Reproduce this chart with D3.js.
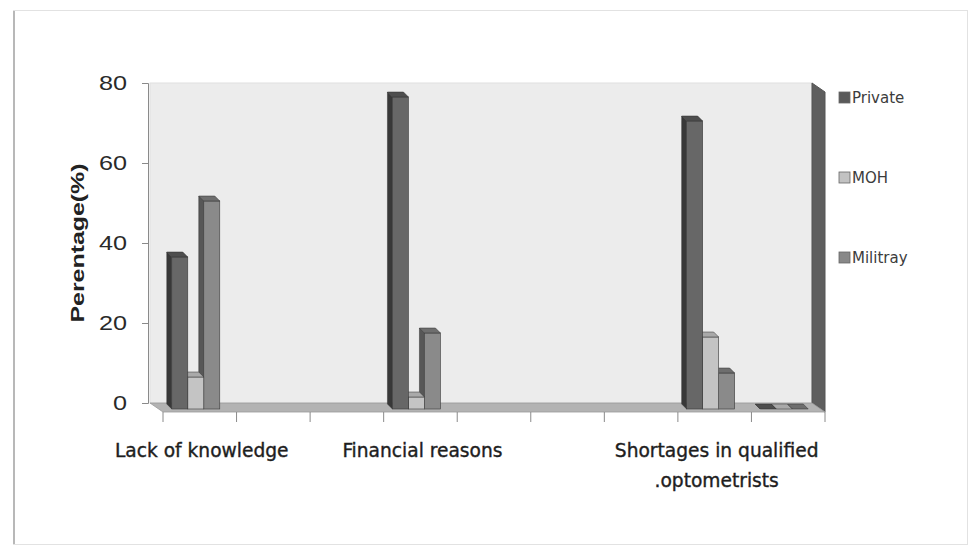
<!DOCTYPE html>
<html>
<head>
<meta charset="utf-8">
<script src="https://cdn.jsdelivr.net/npm/d3@7"></script>
<style>
  body { margin: 0; background: #fff; }
</style>
</head>
<body>
<script>
// categories along the x axis (empty slots have no label)
var categories = ["Lack of knowledge", "", "", "Financial reasons", "", "", "", "Shortages in qualified|.optometrists", ""];
var series = ["Private", "MOH", "Militray"];
var privateVals  = [38, null, null, 78, null, null, null, 72, 0];
var mohVals      = [8,  null, null, 3,  null, null, null, 18, 0];
var militrayVals = [52, null, null, 19, null, null, null, 9,  0];
var yTicks = [0, 20, 40, 60, 80];

var values = {"Private": privateVals, "MOH": mohVals, "Militray": militrayVals};
var faces = {
  "Private":  {front: "#676767", side: "#383838", top: "#4e4e4e", key: "#5a5a5a"},
  "MOH":      {front: "#c4c4c4", side: "#8e8e8e", top: "#a9a9a9", key: "#c2c2c2"},
  "Militray": {front: "#8a8a8a", side: "#575757", top: "#6e6e6e", key: "#888888"}
};

var svg = d3.select("body")
    .append("svg")
    .attr("width", 974)
    .attr("height", 546)
    .style("display", "block");

// outer frame
svg.append("rect")
    .attr("x", 13.5).attr("y", 10.5)
    .attr("width", 954).attr("height", 534)
    .attr("fill", "#fff")
    .attr("stroke", "#e2e2e2");
svg.append("line")
    .attr("x1", 14).attr("y1", 11).attr("x2", 14).attr("y2", 544)
    .attr("stroke", "#b8b8b8").attr("stroke-width", 2);

var y = d3.scaleLinear().domain([0, 80]).range([403, 83]);
var x0 = d3.scaleBand().domain(d3.range(categories.length)).range([150, 812]);
var x1 = d3.scaleBand().domain(series).range([0, 48]);
var depth = {dx: 13, dy: 9};   // wall depth
var bd = 5;                    // bar depth

// back wall
svg.append("rect")
    .attr("x", x0.range()[0]).attr("y", y(80))
    .attr("width", x0.range()[1] - x0.range()[0])
    .attr("height", y(0) - y(80))
    .attr("fill", "#ececec")
    .attr("stroke", "#e0e0e0");

// right side wall
var xr = x0.range()[1];
svg.append("polygon")
    .attr("points", [[xr, y(80)], [xr + depth.dx, y(80) + depth.dy], [xr + depth.dx, y(0) + depth.dy], [xr, y(0)]].join(" "))
    .attr("fill", "#5e5e5e")
    .attr("stroke", "#555");

// floor
var xl = x0.range()[0];
svg.append("polygon")
    .attr("points", [[xl, y(0)], [xr, y(0)], [xr + depth.dx, y(0) + depth.dy], [xl + depth.dx, y(0) + depth.dy]].join(" "))
    .attr("fill", "#b3b3b3")
    .attr("stroke", "#9a9a9a")
    .attr("stroke-width", 0.8);

// y axis
var yAxis = svg.append("g")
    .attr("transform", "translate(148,0)")
    .call(d3.axisLeft(y).tickValues(yTicks).tickSize(6).tickPadding(15));
yAxis.select(".domain").attr("stroke", "#8a8a8a");
yAxis.selectAll(".tick line").attr("stroke", "#8a8a8a");
yAxis.selectAll(".tick text")
    .attr("font-family", "Liberation Sans, Arial, sans-serif")
    .attr("font-size", "21px")
    .attr("fill", "#2a2a2a")
    .each(function() {
      var w = this.getComputedTextLength();
      d3.select(this).attr("textLength", w * 1.2).attr("lengthAdjust", "spacingAndGlyphs");
    });

svg.append("text")
    .attr("transform", "translate(84,243) rotate(-90)")
    .attr("text-anchor", "middle")
    .attr("font-family", "Liberation Sans, Arial, sans-serif")
    .attr("font-weight", "bold")
    .attr("font-size", "18px")
    .attr("fill", "#222")
    .attr("textLength", 159)
    .attr("lengthAdjust", "spacingAndGlyphs")
    .text("Perentage(%)");

// x axis ticks on the front edge of the floor
var xTickPos = x0.domain().map(function(d) { return x0(d); }).concat([x0.range()[1]]);
svg.selectAll(".xtick")
    .data(xTickPos)
    .enter().append("line")
    .attr("class", "xtick")
    .attr("x1", function(d) { return d + depth.dx; })
    .attr("x2", function(d) { return d + depth.dx; })
    .attr("y1", y(0) + depth.dy)
    .attr("y2", y(0) + depth.dy + 10)
    .attr("stroke", "#8a8a8a");

// bars, drawn right to left so left faces are hidden by the neighbour
var groupOff = (x0.bandwidth() - 48) / 2 + 4;
var bw = x1.bandwidth();
var bars = [];
categories.forEach(function(c, i) {
  series.slice().reverse().forEach(function(s) {
    var v = values[s][i];
    if (v === null) return;
    bars.push({i: i, s: s, v: v});
  });
});

var barG = svg.selectAll(".bar")
    .data(bars)
    .enter().append("g")
    .attr("class", "bar");

barG.each(function(d) {
  var g = d3.select(this);
  var bx = x0(d.i) + groupOff + x1(d.s);
  var top = y(d.v) + 1;
  var bot = y(0) + 1;
  var f = faces[d.s];
  // left side
  g.append("polygon")
      .attr("points", [[bx, top], [bx + bd, top + bd], [bx + bd, bot + bd], [bx, bot]].join(" "))
      .attr("fill", f.side).attr("stroke", "#333").attr("stroke-width", 0.5);
  // front
  g.append("rect")
      .attr("x", bx + bd).attr("y", top + bd)
      .attr("width", bw).attr("height", bot - top)
      .attr("fill", f.front).attr("stroke", "#3a3a3a").attr("stroke-width", 0.6);
  // top
  g.append("polygon")
      .attr("points", [[bx, top], [bx + bw, top], [bx + bw + bd, top + bd], [bx + bd, top + bd]].join(" "))
      .attr("fill", f.top).attr("stroke", "#333").attr("stroke-width", 0.5);
});

// category labels
categories.forEach(function(c, i) {
  if (!c) return;
  var lines = c.split("|");
  lines.forEach(function(l, k) {
    svg.append("text")
        .attr("text-anchor", "middle")
        .attr("x", x0(i) + depth.dx + x0.bandwidth() / 2 + 2)
        .attr("y", 457 + k * 30)
        .attr("font-family", "DejaVu Sans Condensed, Liberation Sans Narrow, sans-serif")
        .attr("font-size", "19px")
        .attr("fill", "#1e1e1e")
        .attr("stroke", "#1e1e1e")
        .attr("stroke-width", 0.35)
        .text(l)
        .each(function() {
          var w = this.getComputedTextLength();
          d3.select(this).attr("textLength", w * 1.09).attr("lengthAdjust", "spacingAndGlyphs");
        });
  });
});

// legend
var legend = svg.selectAll(".legend")
    .data(series)
    .enter().append("g")
    .attr("class", "legend")
    .attr("transform", function(d, k) { return "translate(839," + (92 + k * 80) + ")"; });
legend.append("rect")
    .attr("width", 11).attr("height", 11)
    .attr("fill", function(d) { return faces[d].key; })
    .attr("stroke", "#666").attr("stroke-width", 0.8);
legend.append("text")
    .attr("x", 13).attr("y", 11)
    .attr("font-family", "DejaVu Sans, sans-serif")
    .attr("font-size", "15px")
    .attr("fill", "#3c3c3c")
    .text(function(d) { return d; });
</script>
</body>
</html>
